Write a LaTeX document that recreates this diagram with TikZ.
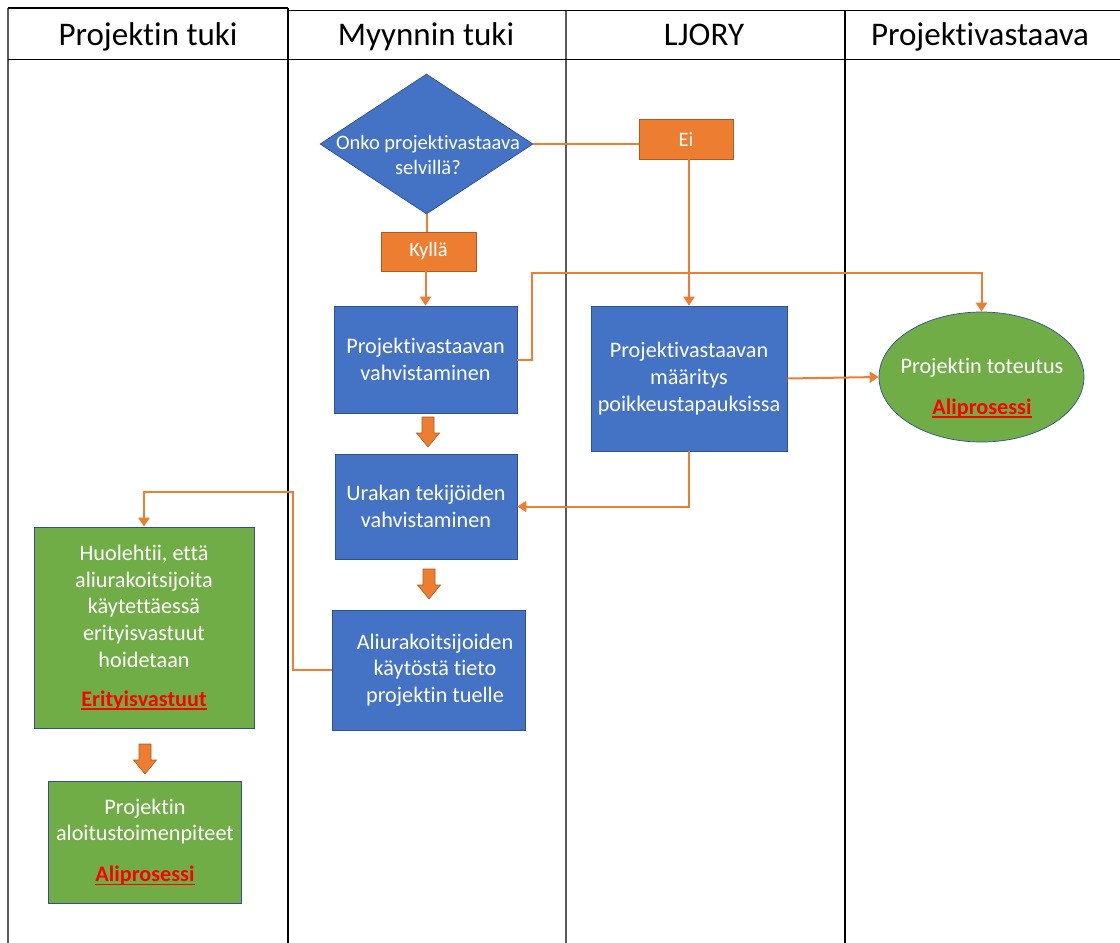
\documentclass[tikz,border=0pt]{standalone}
\usepackage{fontspec}
\setmainfont[Ligatures=NoCommon]{Carlito}
\usetikzlibrary{arrows.meta,shapes.geometric}

\definecolor{boxblue}{HTML}{4472C4}
\definecolor{boxedge}{HTML}{2F528F}
\definecolor{boxgreen}{HTML}{70AD47}
\definecolor{orng}{HTML}{ED7D31}
\definecolor{orngedge}{HTML}{AE5A21}
\definecolor{gridgray}{HTML}{5A5A5A}

% bold red underlined link text for sub-processes
\newsavebox\subprocbox
\newcommand\subproc[1]{\sbox\subprocbox{\color{red}\bfseries #1}%
  {\color{red}\rlap{\usebox\subprocbox}\rule[-3.5pt]{\wd\subprocbox}{1.5pt}}}

\tikzset{
  laneline/.style={line width=1.1pt, draw=black},
  lanegray/.style={line width=1.6pt, draw=gridgray},
  header/.style={font=\fontsize{33}{38}\selectfont, anchor=base, inner sep=0pt},
  body/.style={font=\fontsize{22.2}{26.6}\selectfont, text=white, align=center, inner sep=0pt},
  smallbody/.style={body, font=\fontsize{20.5}{24.5}\selectfont},
  bluebox/.style={body, rectangle, draw=boxedge, fill=boxblue, line width=0.7pt},
  greenbox/.style={body, rectangle, draw=boxedge, fill=boxgreen, line width=0.7pt},
  orangebox/.style={smallbody, rectangle, draw=orngedge, fill=orng, line width=0.7pt},
  conn/.style={draw=orng, line width=2pt},
  connarrow/.style={conn, -{Triangle[width=11pt,length=9pt]}},
  blockarrow/.pic={
    \filldraw[fill=orng, draw=orngedge, line width=0.6pt]
      (-6,0) -- (6,0) -- (6,16) -- (11.5,16) -- (0,30) -- (-11.5,16) -- (-6,16) -- cycle;
  }
}

\begin{document}
\begin{tikzpicture}[x=1pt,y=-1pt]
\useasboundingbox (0,0) rectangle (1120,943);
\fill[white] (0,0) rectangle (1120,943);

% swimlane grid
\draw[lanegray] (8,8) -- (8,943);
\draw[laneline] (8,8) -- (288,8);
\draw[laneline] (288,10.5) -- (1120,10.5);
\draw[laneline] (288,8) -- (288,943);
\draw[lanegray] (566,10.5) -- (566,943);
\draw[laneline] (845,10.5) -- (845,943);
\draw[laneline] (8,59.5) -- (1120,59.5);

% lane titles
\node[header] (h1) at (148,45) {Projektin tuki};
\node[header] (h2) at (426,45) {Myynnin tuki};
\node[header] (h3) at (704,45) {LJORY};
\node[header] (h4) at (980,45) {Projektivastaava};

% decision
\node[diamond, draw=boxedge, fill=boxblue, line width=0.7pt, inner sep=0pt,
      minimum width=213, minimum height=140] (dec) at (426.5,144) {};
\node[smallbody] (dectext) at (428,155) {Onko projektivastaava\\selvillä?};

\node[orangebox, minimum width=94, minimum height=40] (ei) at (686,139) {Ei};
\node[orangebox, minimum width=95, minimum height=39] (kylla) at (428.5,251.5) {Kyllä};

% process boxes
\node[bluebox, minimum width=183, minimum height=107] (vahv) at (425.5,359.5)
  {Projektivastaavan\\vahvistaminen};
\node[bluebox, minimum width=182, minimum height=105] (urakka) at (426,506.5)
  {Urakan tekijöiden\\vahvistaminen};
\node[bluebox, minimum width=193, minimum height=120] (aliur) at (429,670)
  {\hspace*{12pt}Aliurakoitsijoiden\\\hspace*{12pt}käytöstä tieto\\\hspace*{12pt}projektin tuelle};
\node[bluebox, minimum width=196, minimum height=145] (ljory) at (689,378.5)
  {Projektivastaavan\\määritys\\poikkeustapauksissa};

\node[ellipse, draw=boxedge, fill=boxgreen, line width=0.7pt, inner sep=0pt,
      minimum width=205, minimum height=130] (tot) at (981.5,377) {};
\node[body] (tottext) at (982,388) {Projektin toteutus\\[13.5pt]\subproc{Aliprosessi}};

\node[greenbox, minimum width=220, minimum height=201] (huol) at (144,627.5)
  {Huolehtii, että\\aliurakoitsijoita\\käytettäessä\\erityisvastuut\\hoidetaan\\[12.5pt]\subproc{Erityisvastuut}};
\node[greenbox, minimum width=193, minimum height=122] (aloit) at (145,842)
  {Projektin\\aloitustoimenpiteet\\[14.5pt]\subproc{Aliprosessi}};

% block arrows between steps
\pic at (428,417) {blockarrow};
\pic at (429,569) {blockarrow};
\pic at (145,744) {blockarrow};

% connectors
\coordinate (upturn) at (532,273);
\coordinate (leftturn) at (293,492);

\draw[conn] (dec.east) -- (dec.east -| ei.west);
\draw[connarrow] (ljory.north |- ei.south) -- (ljory.north);
\draw[conn] (dec.south) -- (dec.south |- kylla.north);
\draw[connarrow] (vahv.north |- kylla.south) -- (vahv.north);
\draw[connarrow] (vahv.east) -| (upturn) -| (tot.north);
\draw[connarrow] (ljory.east) -- (tot.west);
\draw[connarrow] (ljory.south) |- (urakka.east);
\draw[connarrow] (aliur.west) -| (leftturn) -| (huol.north);
\end{tikzpicture}
\end{document}
